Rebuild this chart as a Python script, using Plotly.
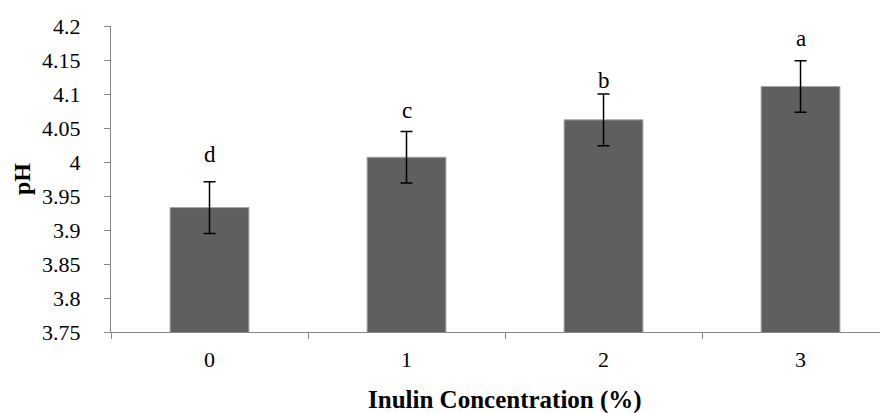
import plotly.graph_objects as go

# ---- data ----
categories = ["0", "1", "2", "3"]
ph_mean = [3.933, 4.007, 4.062, 4.111]
ph_err = [0.038, 0.038, 0.038, 0.038]
letters = ["d", "c", "b", "a"]
y_ticks = [3.75, 3.8, 3.85, 3.9, 3.95, 4.0, 4.05, 4.1, 4.15, 4.2]
y_tick_labels = ["3.75", "3.8", "3.85", "3.9", "3.95", "4", "4.05", "4.1", "4.15", "4.2"]
x_title = "Inulin Concentration (%)"
y_title = "pH"

# ---- styling ----
FONT = "Liberation Serif, Times New Roman, serif"
AXIS_COLOR = "#868686"
letter_shift = [13, 6, -1, 8]

fig = go.Figure()
fig.add_trace(go.Bar(
    x=categories, y=ph_mean,
    width=0.4,
    marker=dict(color="#5f5f5f", line=dict(color="#a6a6a6", width=1)),
    error_y=dict(type="data", array=ph_err, visible=True,
                 color="black", thickness=1.5, width=6),
))

for c, m, e, t, s in zip(categories, ph_mean, ph_err, letters, letter_shift):
    fig.add_annotation(x=c, y=m + e, text=t, showarrow=False,
                       xref="x", yref="y", yanchor="bottom", yshift=s,
                       font=dict(family=FONT, size=23, color="black"))

fig.add_annotation(x=0.507, y=0, xref="paper", yref="paper",
                   yanchor="top", yshift=-52, text="<b>" + x_title + "</b>",
                   showarrow=False, font=dict(family=FONT, size=25, color="black"))
fig.add_annotation(x=0, y=0.5, xref="paper", yref="paper",
                   xanchor="center", xshift=-89, text="<b>" + y_title + "</b>",
                   textangle=-90, showarrow=False,
                   font=dict(family=FONT, size=24, color="black"))

# page body has an 8px default margin; size the figure to fill the rest
fig.update_layout(
    width=880, height=405,
    margin=dict(l=103, r=0, t=18, b=81, pad=0),
    plot_bgcolor="white", paper_bgcolor="white",
    showlegend=False,
    font=dict(family=FONT, size=22, color="black"),
)
fig.update_xaxes(
    type="category", range=[-0.5, 3.444],
    showline=True, linecolor=AXIS_COLOR, linewidth=1,
    ticks="outside", tickson="boundaries", ticklen=6, tickcolor=AXIS_COLOR,
    showgrid=False, zeroline=False,
    tickfont=dict(family=FONT, size=22, color="black"),
    ticklabelstandoff=8,
)
fig.update_yaxes(
    range=[3.75, 4.2], tickvals=y_ticks, ticktext=y_tick_labels,
    showline=True, linecolor=AXIS_COLOR, linewidth=1,
    ticks="outside", ticklen=6, tickcolor=AXIS_COLOR,
    showgrid=False, zeroline=False,
    tickfont=dict(family=FONT, size=22, color="black"),
    ticklabelstandoff=19,
)

fig.write_html("out.html")
